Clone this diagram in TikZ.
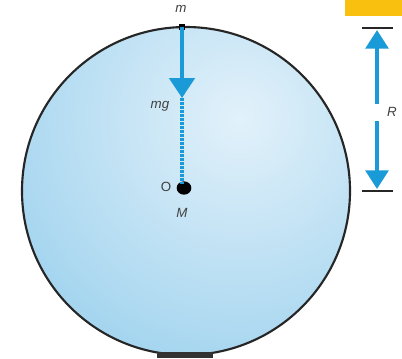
\documentclass[tikz,border=0pt]{standalone}
\usepackage{fontspec}
\setmainfont{Liberation Sans}
\usetikzlibrary{arrows.meta,shapes.geometric}
\definecolor{ballout}{RGB}{158,210,238}
\definecolor{ballin}{RGB}{226,241,250}
\definecolor{arrowblue}{RGB}{26,154,214}
\definecolor{tagorange}{RGB}{250,192,16}
\tikzset{
  lbl/.style={font=\fontsize{10}{11}\selectfont\itshape, text=black!75, inner sep=1pt},
  force/.style={arrowblue, line width=3pt, -{Triangle[width=19pt,length=15pt]}},
  dimarrow/.style={arrowblue, line width=3pt, -{Triangle[width=17pt,length=14pt]}},
  tick/.style={black!85, line width=2pt},
}
\begin{document}
\begin{tikzpicture}[x=0.75pt,y=-0.75pt]
\useasboundingbox (0,0) rectangle (402,358);
% orange tag
\fill[tagorange] (345,0) rectangle (402,16);
% ball
\begin{scope}
  \clip (186,191) circle (164);
  \shade[inner color=ballin, outer color=ballout] (240,118) circle (280);
\end{scope}
\draw[black!85, line width=1.6pt] (186,191) circle (164);
% bottom bar
\fill[black!80] (157,352) rectangle (213,358);
% mass m
\node[fill=black, rectangle, inner sep=0pt, minimum size=5pt] (m) at (182,27) {};
\node[lbl] (mlab) at (181,9) {m};
% centre
\node[fill=black, ellipse, inner sep=0pt, minimum width=11pt, minimum height=10pt] (O) at (184,188) {};
\node[font=\fontsize{10}{11}\selectfont, text=black!75, inner sep=1pt] (Olab) at (166,187) {O};
\node[lbl] (Mlab) at (182,213) {M};
% force arrow
\coordinate (tip) at (182,98);
\draw[force] (m.center) -- (tip);
\draw[arrowblue, line width=3pt, dash pattern=on 2pt off 1pt] (tip) -- (182,184);
\node[lbl] (mg) at (160,106) {mg};
% R dimension
\coordinate (t1a) at (362,28); \coordinate (t1b) at (393,28);
\coordinate (t2a) at (362,191); \coordinate (t2b) at (393,191);
\draw[tick] (t1a) -- (t1b);
\draw[tick] (t2a) -- (t2b);
\coordinate (g1) at (377,104);
\coordinate (g2) at (377,121);
\draw[dimarrow] (g1) -- (377,30);
\draw[dimarrow] (g2) -- (377,189);
\node[lbl] (R) at (392,112) {R};
\end{tikzpicture}
\end{document}
